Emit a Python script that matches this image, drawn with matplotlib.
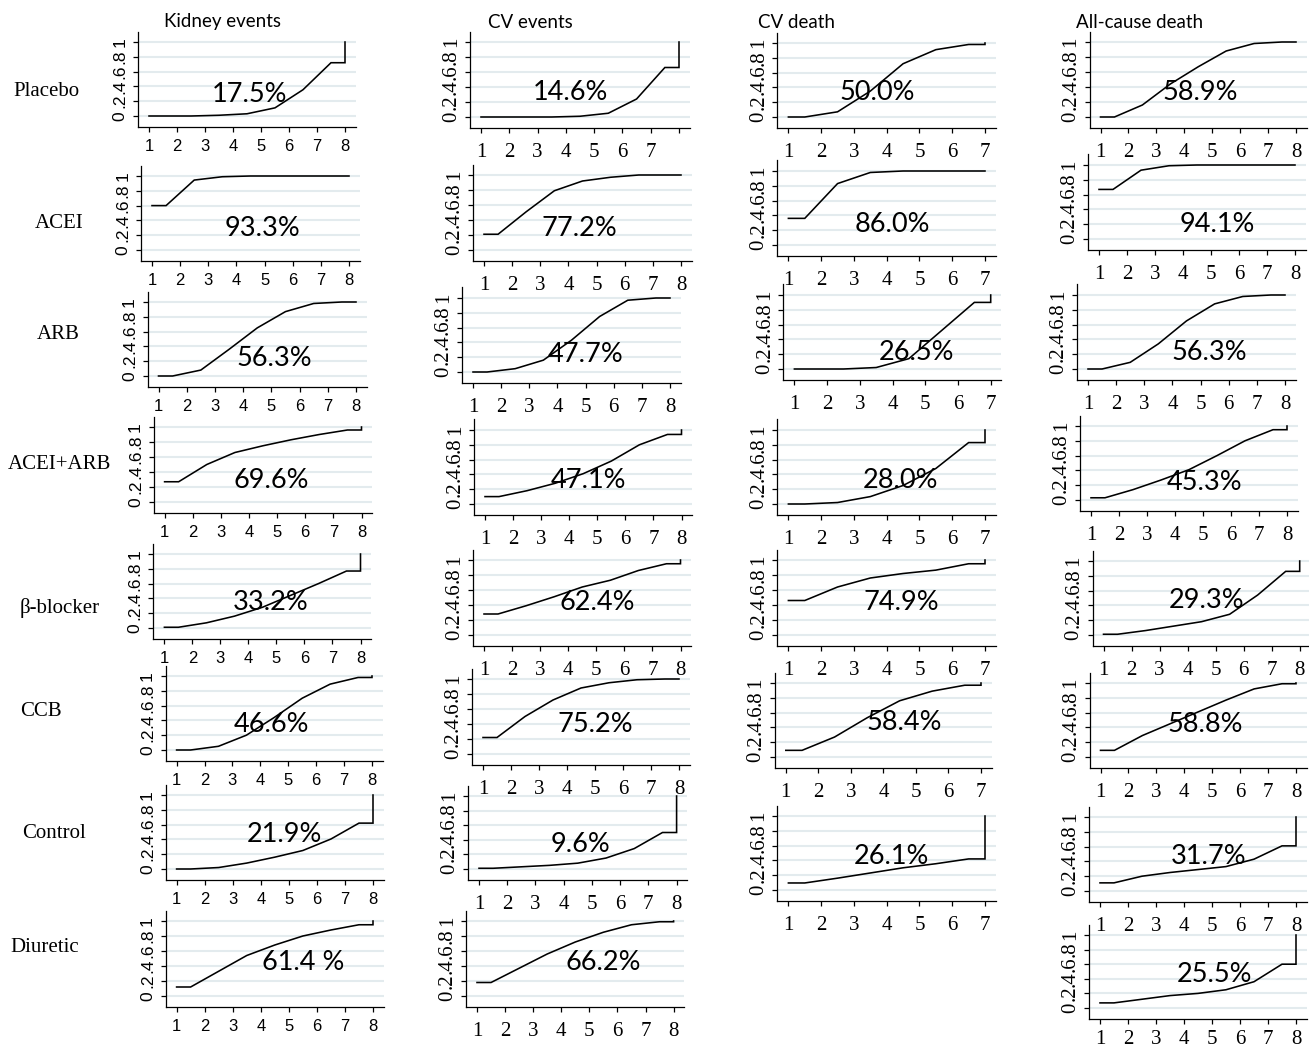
import matplotlib
matplotlib.use('Agg')
import matplotlib.pyplot as plt

# cumulative ranking probabilities at ranks 1..N-1 (last rank is always 1)
columns = ["Kidney events", "CV events", "CV death", "All-cause death"]
rows = ["Placebo", "ACEI", "ARB", "ACEI+ARB", "β-blocker", "CCB", "Control", "Diuretic"]

kidney_cum = [
    [0.00, 0.00, 0.01, 0.03, 0.11, 0.355, 0.72],
    [0.60, 0.945, 0.99, 1.00, 1.00, 1.00, 1.00],
    [0.00, 0.08, 0.36, 0.65, 0.87, 0.98, 1.00],
    [0.27, 0.50, 0.66, 0.75, 0.83, 0.90, 0.96],
    [0.01, 0.07, 0.16, 0.28, 0.44, 0.60, 0.77],
    [0.00, 0.05, 0.20, 0.44, 0.70, 0.89, 0.98],
    [0.00, 0.02, 0.08, 0.16, 0.25, 0.405, 0.62],
    [0.12, 0.33, 0.54, 0.68, 0.80, 0.88, 0.95],
]
kidney_sucra = ["17.5%", "93.3%", "56.3%", "69.6%", "33.2%", "46.6%", "21.9%", "61.4 %"]

cvevent_cum = [
    [0.00, 0.00, 0.00, 0.01, 0.05, 0.24, 0.66],
    [0.21, 0.51, 0.79, 0.92, 0.97, 1.00, 1.00],
    [0.00, 0.045, 0.16, 0.43, 0.75, 0.97, 1.00],
    [0.10, 0.18, 0.28, 0.41, 0.58, 0.80, 0.94],
    [0.28, 0.39, 0.51, 0.64, 0.73, 0.86, 0.95],
    [0.22, 0.50, 0.72, 0.88, 0.95, 0.99, 1.00],
    [0.01, 0.03, 0.05, 0.08, 0.15, 0.28, 0.50],
    [0.18, 0.37, 0.56, 0.72, 0.85, 0.95, 0.99],
]
cvevent_sucra = ["14.6%", "77.2%", "47.7%", "47.1%", "62.4%", "75.2%", "9.6%", "66.2%"]

cvdeath_cum = [
    [0.00, 0.07, 0.35, 0.72, 0.91, 0.98],
    [0.36, 0.83, 0.98, 1.00, 1.00, 1.00],
    [0.00, 0.00, 0.02, 0.14, 0.52, 0.90],
    [0.00, 0.02, 0.10, 0.25, 0.48, 0.83],
    [0.46, 0.64, 0.76, 0.82, 0.865, 0.95],
    [0.09, 0.27, 0.53, 0.76, 0.89, 0.97],
    [0.095, 0.16, 0.23, 0.30, 0.355, 0.42],
]
cvdeath_sucra = ["50.0%", "86.0%", "26.5%", "28.0%", "74.9%", "58.4%", "26.1%"]

allcause_cum = [
    [0.00, 0.16, 0.44, 0.67, 0.88, 0.98, 1.00],
    [0.67, 0.93, 0.99, 1.00, 1.00, 1.00, 1.00],
    [0.00, 0.09, 0.34, 0.65, 0.88, 0.98, 1.00],
    [0.03, 0.14, 0.27, 0.41, 0.60, 0.80, 0.95],
    [0.01, 0.06, 0.12, 0.18, 0.28, 0.54, 0.86],
    [0.09, 0.29, 0.45, 0.61, 0.77, 0.92, 0.99],
    [0.11, 0.20, 0.25, 0.29, 0.33, 0.43, 0.61],
    [0.07, 0.12, 0.17, 0.20, 0.25, 0.36, 0.60],
]
allcause_sucra = ["58.9%", "94.1%", "56.3%", "45.3%", "29.3%", "58.8%", "31.7%", "25.5%"]

# panel frames in pixels: (x of rank 1, x of last rank, y of 1.0, y of 0)
kidney_px = [(149, 345, 42, 116), (152, 349, 176, 250), (158.5, 356, 302, 376),
             (164.6, 361.5, 427, 502), (164.4, 360.5, 554, 628), (176.6, 372, 676, 750),
             (176.6, 373, 795, 869), (176.6, 373, 921, 996)]
cvevent_px = [(481, 679, 42, 117), (484, 681, 175, 250), (473, 670, 298, 372),
              (485, 681.5, 430, 504), (484, 680.5, 560, 635), (483, 679, 679, 754),
              (479, 676.6, 796, 869), (477, 673.6, 921, 996)]
cvdeath_px = [(788.4, 985, 43, 117), (788.4, 985, 171, 245), (794.4, 990.7, 295, 369),
              (788.4, 985, 430, 504), (788.4, 985, 560, 635), (785.8, 981, 683, 757),
              (788.4, 985, 816, 890)]
allcause_px = [(1100.5, 1296, 42, 117), (1099, 1295, 165, 239), (1088, 1285, 295, 369),
               (1091, 1287, 426, 500), (1103.5, 1299.7, 561, 635), (1100.5, 1296, 683, 757),
               (1100, 1296, 817, 891), (1100, 1296, 935, 1008)]

# centres of the SUCRA labels in pixels
kidney_txt = [(250, 94), (262, 229), (274, 358), (271, 481), (271, 603), (271, 725), (284, 834), (303, 962)]
cvevent_txt = [(570, 93), (579, 228), (586, 355), (588, 480), (597, 603), (595, 725), (581, 845), (603, 962)]
cvdeath_txt = [(877, 92), (892, 225), (916, 353), (900, 480), (901, 603), (904, 723), (891, 856)]
allcause_txt = [(1200, 93), (1217, 225), (1209, 353), (1205, 482), (1207, 601), (1205, 725), (1209, 857), (1215, 975)]

title_xy = [(223, 22), (530, 22), (796, 22), (1140, 22)]
row_xy = [(13, 91), (35, 223), (37, 335), (8, 465), (20, 608), (20, 711), (22, 833), (10, 947)]

W, H = 1309, 1052
fig = plt.figure(figsize=(W / 100, H / 100), dpi=100)
fig.patch.set_facecolor('white')

SANS = 'Lato'


def panel(px, cum, n, serif, xlabels=None, xpad=None):
    x1, xn, y1, y0 = px
    ux = (xn - x1) / (n - 1)
    uy = y0 - y1
    ml, mr, mb, mt = 11, 10.5, 11, 10.5
    ax = fig.add_axes([(x1 - ml) / W, 1 - (y0 + mb) / H,
                       (xn - x1 + ml + mr) / W, (uy + mb + mt) / H])
    ax.set_facecolor('none')
    ax.set_xlim(1 - ml / ux, n + mr / ux)
    ax.set_ylim(-mb / uy, 1 + mt / uy)

    xs = [1] + [k + 0.5 for k in range(1, n)] + [n, n]
    ys = [cum[0]] + list(cum) + [cum[-1], 1]
    ax.plot(xs, ys, color='black', lw=1.15, solid_joinstyle='miter', zorder=3)

    for s in ['top', 'right']:
        ax.spines[s].set_visible(False)
    for s in ['left', 'bottom']:
        ax.spines[s].set_linewidth(0.9)

    ax.set_yticks([0, 0.2, 0.4, 0.6, 0.8, 1.0])
    ax.set_yticklabels(['0', '.2', '.4', '.6', '.8', '1'], rotation=90, va='center')
    ax.set_xticks(range(1, n + 1))
    ax.set_xticklabels(xlabels if xlabels is not None else [str(i) for i in range(1, n + 1)])
    ax.yaxis.grid(True, color='#e3ebee', lw=1.5)
    ax.set_axisbelow(True)

    if serif:
        fam, xsize, ysize, pad_x, pad_y = 'Liberation Serif', 15, 15, 7, 3
    else:
        fam, xsize, ysize, pad_x, pad_y = 'Liberation Sans', 12, 12.5, 5, 4
    if xpad is not None:
        pad_x = xpad
    ax.tick_params(direction='out', length=3.6, width=0.9)
    ax.tick_params(axis='x', pad=pad_x, labelsize=xsize)
    ax.tick_params(axis='y', pad=pad_y, labelsize=ysize)
    for t in ax.get_xticklabels() + ax.get_yticklabels():
        t.set_fontfamily(fam)
    return ax


def sucra_label(xy, text):
    fig.text(xy[0] / W, 1 - xy[1] / H, text, ha='center', va='center',
             fontsize=19.5, family=SANS, zorder=5)


for i in range(8):
    panel(kidney_px[i], kidney_cum[i], 8, serif=False)
    sucra_label(kidney_txt[i], kidney_sucra[i])

for i in range(8):
    labels = ['1', '2', '3', '4', '5', '6', '7', ''] if i == 0 else None
    panel(cvevent_px[i], cvevent_cum[i], 8, serif=True, xlabels=labels)
    sucra_label(cvevent_txt[i], cvevent_sucra[i])

for i in range(7):
    panel(cvdeath_px[i], cvdeath_cum[i], 7, serif=True)
    sucra_label(cvdeath_txt[i], cvdeath_sucra[i])

for i in range(8):
    # bottom-most panel sits close to the figure edge
    panel(allcause_px[i], allcause_cum[i], 8, serif=True, xpad=4 if i == 7 else None)
    sucra_label(allcause_txt[i], allcause_sucra[i])

for name, (x, y) in zip(columns, title_xy):
    fig.text(x / W, 1 - y / H, name, ha='center', va='center', fontsize=13.5, family=SANS)

for name, (x, y) in zip(rows, row_xy):
    fig.text(x / W, 1 - y / H, name, ha='left', va='center', fontsize=15,
             family='Liberation Serif')

fig.savefig('out.png', dpi=100, facecolor='white')
